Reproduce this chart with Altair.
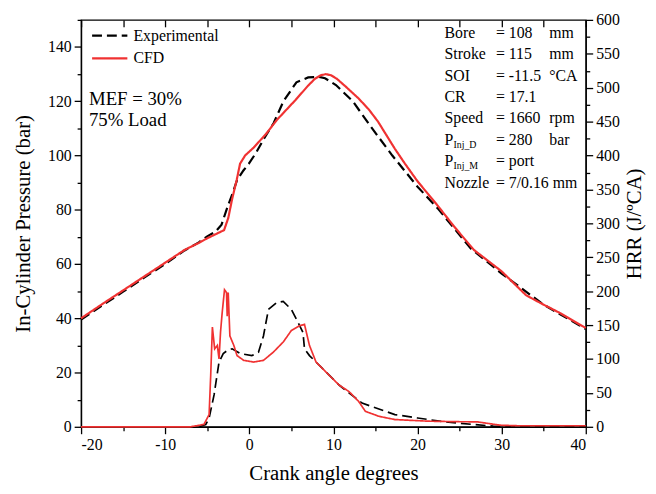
import altair as alt
import pandas as pd

# ---------------- data ----------------
series_order = ["Experimental", "CFD"]

ca_p_cfd = [-20, -17.5, -15, -12.5, -10, -7.7, -6, -5, -4, -3, -2.5, -2.04, -1.5, -1.1, -0.5, 0.54, 2, 3.24,
            5.5, 7, 7.8, 8.5, 9.1, 9.7, 10.4, 11.5, 13, 14.2, 15.3, 16.3, 17.3, 18.5, 20, 22.4, 24.3, 26.7,
            30, 32.9, 35, 36.9, 40]
p_cfd = [40, 45.2, 50.3, 55.4, 60.5, 65.2, 67.8, 69.5, 71, 72.5, 77, 84, 91, 97, 100, 103, 108, 113,
         120.5, 125.8, 128.3, 129.6, 130, 129.6, 128.3, 125.3, 121, 117, 112.5, 107.5, 102.5, 97, 90.5, 81.5, 74,
         65.2, 57.3, 48.5, 45, 42, 36.4]

ca_p_exp = [-20, -17.5, -15, -12.5, -10, -7.7, -6, -5, -4, -3.3, -2.6, -2, -1.45, -0.7, -0.05, 0.8, 1.7, 2.9,
            4.06, 5.6, 7, 8.3, 9, 10.3, 12.3, 14.6, 17, 20, 22.4, 26.3, 30, 35, 40]
p_exp = [39.5, 44.7, 49.8, 55, 60, 65, 68, 70.2, 72, 74.5, 81, 86, 91, 94.5, 97, 101, 106, 112,
         120, 127, 128.8, 129, 128.5, 126, 120, 110, 100, 88.5, 80.5, 65.8, 56.5, 45, 36]

ca_h_cfd = [-20, -10, -7, -5.4, -4.78, -4.59, -4.39, -4.12, -3.8, -3.6, -3.42, -3.22, -2.95, -2.71, -2.63,
            -2.51, -2.31, -1.84, -1.46, -0.67, 0.5, 1.68, 2.85, 4.03, 5.0, 5.97, 6.56, 7.15, 7.93, 9.5,
            10.67, 11.85, 13.0, 13.8, 15.4, 17.3, 21.2, 25, 27.1, 29.8, 32, 40]
h_cfd = [0, 0, 0, 3.5, 18, 76, 147, 115, 120, 100, 140, 169, 202, 198, 163,
         198, 134, 120, 105, 98, 95.5, 98, 110, 125, 142, 149, 151, 120, 95.5, 76,
         61.6, 52, 37.4, 22.8, 15.5, 10.7, 8.3, 7.5, 7.3, 2.4, 1.5, 1.5]

ca_h_exp = [-20, -10, -6, -5.18, -4.78, -4.19, -3.6, -3.1, -2.63, -2.04, -1.07, 0.3, 1.09, 1.68, 2.27,
            3.24, 4.03, 5.0, 5.79, 6.38, 6.56, 7.15, 8.13, 9.1, 10.67, 13.4, 17.3, 20, 23.2, 26.7, 29, 31, 40]
h_exp = [0, 0, 0, 3.4, 13, 47, 95.5, 108, 112.5, 115, 108, 105, 110, 134, 173,
         183, 185, 173, 154, 139, 115, 105, 93, 81, 61.6, 35, 18, 13, 7.3, 3.4, 1, 0, 0]

note_lines = ["MEF = 30%", "75% Load"]
param_labels = ["Bore", "Stroke", "SOI", "CR", "Speed", "P", "P", "Nozzle"]
param_subs = ["", "", "", "", "", "Inj_D", "Inj_M", ""]
param_values = ["= 108", "= 115", "= -11.5", "= 17.1", "= 1660", "= 280", "= port", "= 7/0.16 mm"]
param_units = ["mm", "mm", "\u00b0CA", "", "rpm", "bar", "", ""]

# ---------------- frames ----------------
p_df = pd.concat([
    pd.DataFrame({"ca": ca_p_exp, "v": p_exp, "series": "Experimental"}),
    pd.DataFrame({"ca": ca_p_cfd, "v": p_cfd, "series": "CFD"}),
])
h_df = pd.concat([
    pd.DataFrame({"ca": ca_h_exp, "v": h_exp, "series": "Experimental"}),
    pd.DataFrame({"ca": ca_h_cfd, "v": h_cfd, "series": "CFD"}),
])

FONT = "Liberation Serif"
RED = "#f03232"

x_scale = alt.Scale(domain=[-20, 40], nice=False, zero=False)

axis_common = dict(
    labelFont=FONT, labelFontSize=16, labelColor="black",
    titleFont=FONT, titleFontSize=21, titleFontWeight="normal", titleColor="black",
    domainColor="black", domainWidth=1.3, tickColor="black", tickWidth=1.3,
    grid=False,
)

bottom_axis = alt.Axis(
    orient="bottom", values=list(range(-20, 41, 5)),
    labelExpr="datum.value % 10 === 0 ? '' + datum.value : ''",
    tickSize={"condition": {"test": "datum.value % 10 === 0", "value": 7}, "value": 4},
    labelPadding=3, titlePadding=10, title="Crank angle degrees", **axis_common,
)
top_axis = alt.Axis(
    orient="top", values=list(range(-20, 41, 5)), labels=False, domain=False,
    offset=-7, tickSize=7, tickColor="black", tickWidth=1.3, grid=False, title=None,
)
left_axis = alt.Axis(
    orient="left", values=list(range(0, 151, 10)),
    labelExpr="datum.value % 20 === 0 ? '' + datum.value : ''",
    tickSize={"condition": {"test": "datum.value % 20 === 0", "value": 7}, "value": 4},
    labelPadding=3, titlePadding=14, title="In-Cylinder Pressure (bar)", **axis_common,
)
right_axis = alt.Axis(
    orient="right", values=list(range(0, 601, 25)),
    labelExpr="datum.value % 50 === 0 ? '' + datum.value : ''",
    tickSize={"condition": {"test": "datum.value % 50 === 0", "value": 7}, "value": 4},
    labelPadding=3, titlePadding=25, titleAngle=270, title="HRR (J/\u00baCA)", **axis_common,
)

legend = alt.Legend(
    title=None, orient="none", legendX=17, legendY=4,
    symbolType="M-1.7,0L1.7,0", symbolSize=441, symbolStrokeWidth=2.2,
    labelFont=FONT, labelFontSize=16, labelColor="black", labelOffset=12,
    rowPadding=3, symbolOffset=0,
)
color = alt.Color("series:N", scale=alt.Scale(domain=series_order, range=["#000000", RED]), legend=legend)
dash = alt.StrokeDash("series:N", scale=alt.Scale(domain=series_order, range=[[10, 5], [1, 0]]), legend=legend)

pressure = alt.Chart(p_df).mark_line(strokeWidth=2.2).encode(
    x=alt.X("ca:Q", scale=x_scale, axis=bottom_axis),
    y=alt.Y("v:Q", scale=alt.Scale(domain=[0, 150], nice=False), axis=left_axis),
    color=color, strokeDash=dash, order="ca:Q",
)
hrr = alt.Chart(h_df).mark_line(strokeWidth=1.7).encode(
    x=alt.X("ca:Q", scale=x_scale, axis=top_axis),
    y=alt.Y("v:Q", scale=alt.Scale(domain=[0, 600], nice=False), axis=right_axis),
    color=color, strokeDash=dash, order="ca:Q",
)

texts = []
def txt(s, px, py, size=16, align="left"):
    return alt.Chart(pd.DataFrame({"t": [s]})).mark_text(
        font=FONT, fontSize=size, align=align, baseline="middle", color="black"
    ).encode(text="t:N", x=alt.value(px), y=alt.value(py))

for i, s in enumerate(note_lines):
    texts.append(txt(s, 8, 80 + 21 * i, size=19))

for i in range(len(param_labels)):
    y = 13 + 21.7 * i
    texts.append(txt(param_labels[i], 368, y))
    if param_subs[i]:
        texts.append(txt(param_subs[i], 377, y + 5, size=10))
    texts.append(txt(param_values[i], 420, y))
    if param_units[i]:
        texts.append(txt(param_units[i], 474, y))

chart = alt.layer(pressure, hrr, *texts).resolve_scale(y="independent").properties(
    width=511, height=412,
    padding={"left": 74, "top": 9, "right": 63, "bottom": 65},
    autosize=alt.AutoSizeParams(type="none"),
).configure(
    background="white", font=FONT
).configure_view(
    stroke="black", strokeWidth=1.3
).configure_axis(
    labelFont=FONT, titleFont=FONT
).configure_legend(
    labelFont=FONT
)

chart.save("out.html", embed_options={"renderer": "svg", "actions": False})
